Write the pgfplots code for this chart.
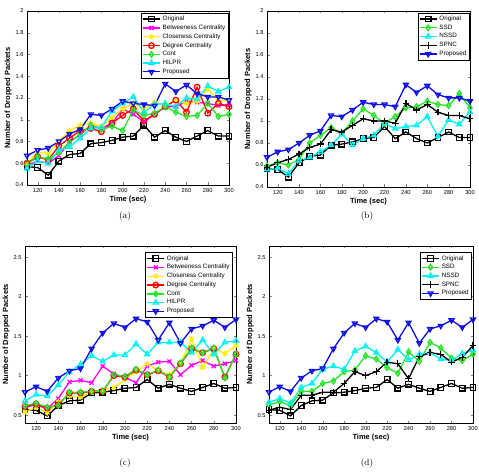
\documentclass[border=0pt]{standalone}
\usepackage{fontspec}
\usepackage{pgfplots}
\usepackage{pgfplotstable}
\pgfplotsset{compat=1.18}
\newfontfamily\af{Liberation Sans}

\definecolor{cmag}{rgb}{1,0,1}
\definecolor{cyel}{rgb}{1,0.95,0}
\definecolor{cred}{rgb}{1,0,0}
\definecolor{cgrn}{rgb}{0.15,0.9,0.15}
\definecolor{ccya}{rgb}{0,0.95,0.95}
\definecolor{cblu}{rgb}{0.05,0.05,0.9}

% Scenario 1: centrality-based schemes
\pgfplotstableread{
t   orig bet  clo  deg  cont hil  prop
110 0.57 0.58 0.60 0.60 0.59 0.55 0.67
120 0.56 0.62 0.70 0.66 0.66 0.62 0.72
130 0.49 0.60 0.69 0.63 0.64 0.60 0.74
140 0.62 0.67 0.80 0.76 0.70 0.72 0.80
150 0.68 0.80 0.90 0.83 0.79 0.75 0.87
160 0.69 0.86 0.95 0.90 0.87 0.83 0.91
170 0.78 0.95 0.97 0.92 0.95 0.92 1.05
180 0.79 0.92 0.94 0.89 0.91 0.93 1.04
190 0.81 0.97 1.02 0.97 0.94 1.08 1.10
200 0.84 1.10 1.10 1.04 0.90 1.15 1.17
210 0.85 1.05 1.15 1.10 1.09 1.21 1.15
220 0.95 0.98 1.10 0.99 1.04 1.07 1.14
230 0.84 1.05 1.16 1.05 1.06 1.14 1.13
240 0.90 1.12 1.14 1.12 1.12 1.15 1.33
250 0.84 1.12 1.17 1.18 1.07 1.12 1.26
260 0.80 1.17 1.15 1.07 1.03 1.20 1.32
270 0.85 1.16 1.17 1.30 1.04 1.19 1.24
280 0.90 1.15 1.28 1.06 1.15 1.31 1.21
290 0.85 1.13 1.17 1.15 1.03 1.26 1.21
300 0.85 1.14 1.18 1.12 1.05 1.30 1.18
}\tabA

% Scenario 1: degree-based schemes
\pgfplotstableread{
t   orig ssd  nssd spnc prop
110 0.57 0.59 0.56 0.58 0.67
120 0.56 0.62 0.57 0.62 0.72
130 0.49 0.60 0.52 0.65 0.74
140 0.62 0.65 0.64 0.70 0.80
150 0.68 0.80 0.67 0.76 0.87
160 0.69 0.87 0.72 0.79 0.91
170 0.78 0.94 0.78 0.92 1.05
180 0.79 0.89 0.88 0.90 1.04
190 0.81 1.00 0.78 0.96 1.10
200 0.84 1.11 0.84 1.02 1.17
210 0.85 1.05 0.87 1.00 1.15
220 0.95 0.98 0.98 1.00 1.15
230 0.84 1.04 0.93 0.98 1.13
240 0.90 1.12 0.95 1.16 1.33
250 0.84 1.13 0.96 1.10 1.26
260 0.80 1.18 1.04 1.15 1.32
270 0.85 1.15 0.86 1.08 1.24
280 0.90 1.14 1.01 1.05 1.21
290 0.85 1.25 0.97 1.05 1.21
300 0.85 1.12 1.08 1.02 1.18
}\tabB

% Scenario 2: centrality-based schemes
\pgfplotstableread{
t   orig bet  clo  deg  cont hil  prop
110 0.57 0.60 0.54 0.61 0.62 0.68 0.79
120 0.56 0.63 0.60 0.64 0.65 0.76 0.86
130 0.49 0.58 0.53 0.59 0.60 0.74 0.80
140 0.62 0.71 0.67 0.63 0.62 0.88 0.97
150 0.68 0.92 0.74 0.78 0.79 1.05 1.06
160 0.69 0.94 0.73 0.78 0.79 1.14 1.09
170 0.78 0.91 0.79 0.80 0.80 1.25 1.34
180 0.79 1.12 0.82 0.80 0.80 1.18 1.54
190 0.81 1.02 0.85 1.00 1.01 1.26 1.66
200 0.84 0.98 0.95 0.98 0.99 1.26 1.61
210 0.85 0.91 1.05 1.07 1.08 1.40 1.72
220 0.95 1.12 1.15 1.01 1.01 1.27 1.68
230 0.84 1.17 1.06 1.06 1.07 1.42 1.45
240 0.89 1.18 1.01 0.98 0.98 1.42 1.67
250 0.84 1.01 1.15 1.15 1.16 1.42 1.41
260 0.80 1.13 1.47 1.34 1.35 1.29 1.59
270 0.85 1.19 1.10 1.29 1.29 1.45 1.63
280 0.90 1.12 1.34 1.34 1.35 1.27 1.70
290 0.84 1.15 1.28 0.98 0.97 1.42 1.61
300 0.85 1.19 1.38 1.27 1.27 1.44 1.71
}\tabC

% Scenario 2: degree-based schemes
\pgfplotstableread{
t   orig ssd  nssd spnc prop
110 0.57 0.63 0.66 0.56 0.79
120 0.56 0.67 0.71 0.60 0.86
130 0.49 0.62 0.65 0.57 0.80
140 0.62 0.80 0.85 0.75 0.97
150 0.68 0.80 0.90 0.75 1.06
160 0.69 0.90 1.08 0.79 1.09
170 0.78 0.93 1.12 0.79 1.34
180 0.79 1.05 1.08 0.90 1.54
190 0.81 1.07 1.31 1.05 1.66
200 0.84 1.25 1.37 1.00 1.61
210 0.85 1.21 1.29 1.05 1.72
220 0.95 1.10 1.17 1.17 1.68
230 0.84 1.03 1.33 1.15 1.45
240 0.89 1.30 1.20 0.96 1.67
250 0.84 1.18 1.27 1.24 1.41
260 0.80 1.42 1.29 1.29 1.59
270 0.85 1.35 1.21 1.27 1.63
280 0.90 1.22 1.19 1.17 1.70
290 0.84 1.19 1.28 1.23 1.61
300 0.85 1.27 1.32 1.38 1.71
}\tabD

\pgfplotsset{
  panel/.style={
    scale only axis,
    xmin=110, xmax=300,
    xtick={120,140,...,300},
    tick align=inside,
    major tick length=2.5pt,
    xlabel={Time (sec)},
    ylabel={Number of Dropped Packets},
    label style={font=\af\bfseries\fontsize{7.5}{8}\selectfont},
    xlabel style={yshift=3pt},
    ylabel style={yshift=-3pt},
    tick label style={font=\af\fontsize{5.7}{6}\selectfont},
    /pgf/number format/assume math mode=true,
    axis line style={line width=0.5pt},
    legend cell align=left,
    legend style={font=\af\fontsize{6.3}{7}\selectfont, draw=black,
      inner sep=1pt, row sep=-1.2pt, line width=0.5pt},
    every axis plot/.append style={line width=1.3pt, mark size=2.8pt},
  },
  sq/.style={black, mark=square},
  bt/.style={cmag, mark=x},
  cl/.style={cyel, mark=asterisk},
  dg/.style={cred, mark=o},
  ct/.style={cgrn, mark=diamond},
  hl/.style={ccya, mark=triangle},
  pr/.style={cblu, mark=triangle, mark options={rotate=180}},
  sp/.style={black, mark=+, mark size=3.3pt},
}

\begin{document}
\begin{tikzpicture}
\path[use as bounding box] (0,0) rectangle (479pt,474pt);

% (a)
\begin{axis}[panel, at={(27pt,289pt)}, anchor=south west,
  width=202pt, height=174pt, ymin=0.4, ymax=2, ytick={0.4,0.6,...,2.01},
  legend style={at={(0.998,0.99)}, anchor=north east}]
  \addplot[sq] table[x=t, y=orig] {\tabA}; \addlegendentry{Original}
  \addplot[bt] table[x=t, y=bet] {\tabA}; \addlegendentry{Betweeness Centrality}
  \addplot[cl] table[x=t, y=clo] {\tabA}; \addlegendentry{Closeness Centrality}
  \addplot[dg] table[x=t, y=deg] {\tabA}; \addlegendentry{Degree Centrality}
  \addplot[ct] table[x=t, y=cont] {\tabA}; \addlegendentry{Cont}
  \addplot[hl] table[x=t, y=hil] {\tabA}; \addlegendentry{HILPR}
  \addplot[pr] table[x=t, y=prop] {\tabA}; \addlegendentry{Proposed}
\end{axis}
\node[font=\fontsize{9}{10}\selectfont] at (125pt,258pt) {(a)};

% (b)
\begin{axis}[panel, at={(267pt,287pt)}, anchor=south west,
  width=203pt, height=176pt, ymin=0.4, ymax=2, ytick={0.4,0.6,...,2.01},
  legend style={at={(0.998,0.99)}, anchor=north east}]
  \addplot[sq] table[x=t, y=orig] {\tabB}; \addlegendentry{Original}
  \addplot[ct] table[x=t, y=ssd] {\tabB}; \addlegendentry{SSD}
  \addplot[hl] table[x=t, y=nssd] {\tabB}; \addlegendentry{NSSD}
  \addplot[sp] table[x=t, y=spnc] {\tabB}; \addlegendentry{SPNC}
  \addplot[pr] table[x=t, y=prop] {\tabB}; \addlegendentry{Proposed}
\end{axis}
\node[font=\fontsize{9}{10}\selectfont] at (367pt,258pt) {(b)};

% (c)
\begin{axis}[panel, at={(25pt,51pt)}, anchor=south west,
  width=211pt, height=177pt, ymin=0.4, ymax=2.64, ytick={0.5,1,...,2.5},
  legend style={at={(0.985,0.965)}, anchor=north east}]
  \addplot[sq] table[x=t, y=orig] {\tabC}; \addlegendentry{Original}
  \addplot[bt] table[x=t, y=bet] {\tabC}; \addlegendentry{Betweeness Centrality}
  \addplot[cl] table[x=t, y=clo] {\tabC}; \addlegendentry{Closeness Centrality}
  \addplot[dg] table[x=t, y=deg] {\tabC}; \addlegendentry{Degree Centrality}
  \addplot[ct] table[x=t, y=cont] {\tabC}; \addlegendentry{Cont}
  \addplot[hl] table[x=t, y=hil] {\tabC}; \addlegendentry{HILPR}
  \addplot[pr] table[x=t, y=prop] {\tabC}; \addlegendentry{Proposed}
\end{axis}
\node[font=\fontsize{9}{10}\selectfont] at (125pt,11pt) {(c)};

% (d)
\begin{axis}[panel, at={(269pt,51pt)}, anchor=south west,
  width=204pt, height=177pt, ymin=0.4, ymax=2.64, ytick={0.5,1,...,2.5},
  legend style={at={(0.995,0.965)}, anchor=north east}]
  \addplot[sq] table[x=t, y=orig] {\tabD}; \addlegendentry{Original}
  \addplot[ct] table[x=t, y=ssd] {\tabD}; \addlegendentry{SSD}
  \addplot[hl] table[x=t, y=nssd] {\tabD}; \addlegendentry{NSSD}
  \addplot[sp] table[x=t, y=spnc] {\tabD}; \addlegendentry{SPNC}
  \addplot[pr] table[x=t, y=prop] {\tabD}; \addlegendentry{Proposed}
\end{axis}
\node[font=\fontsize{9}{10}\selectfont] at (367pt,11pt) {(d)};
\end{tikzpicture}
\end{document}
